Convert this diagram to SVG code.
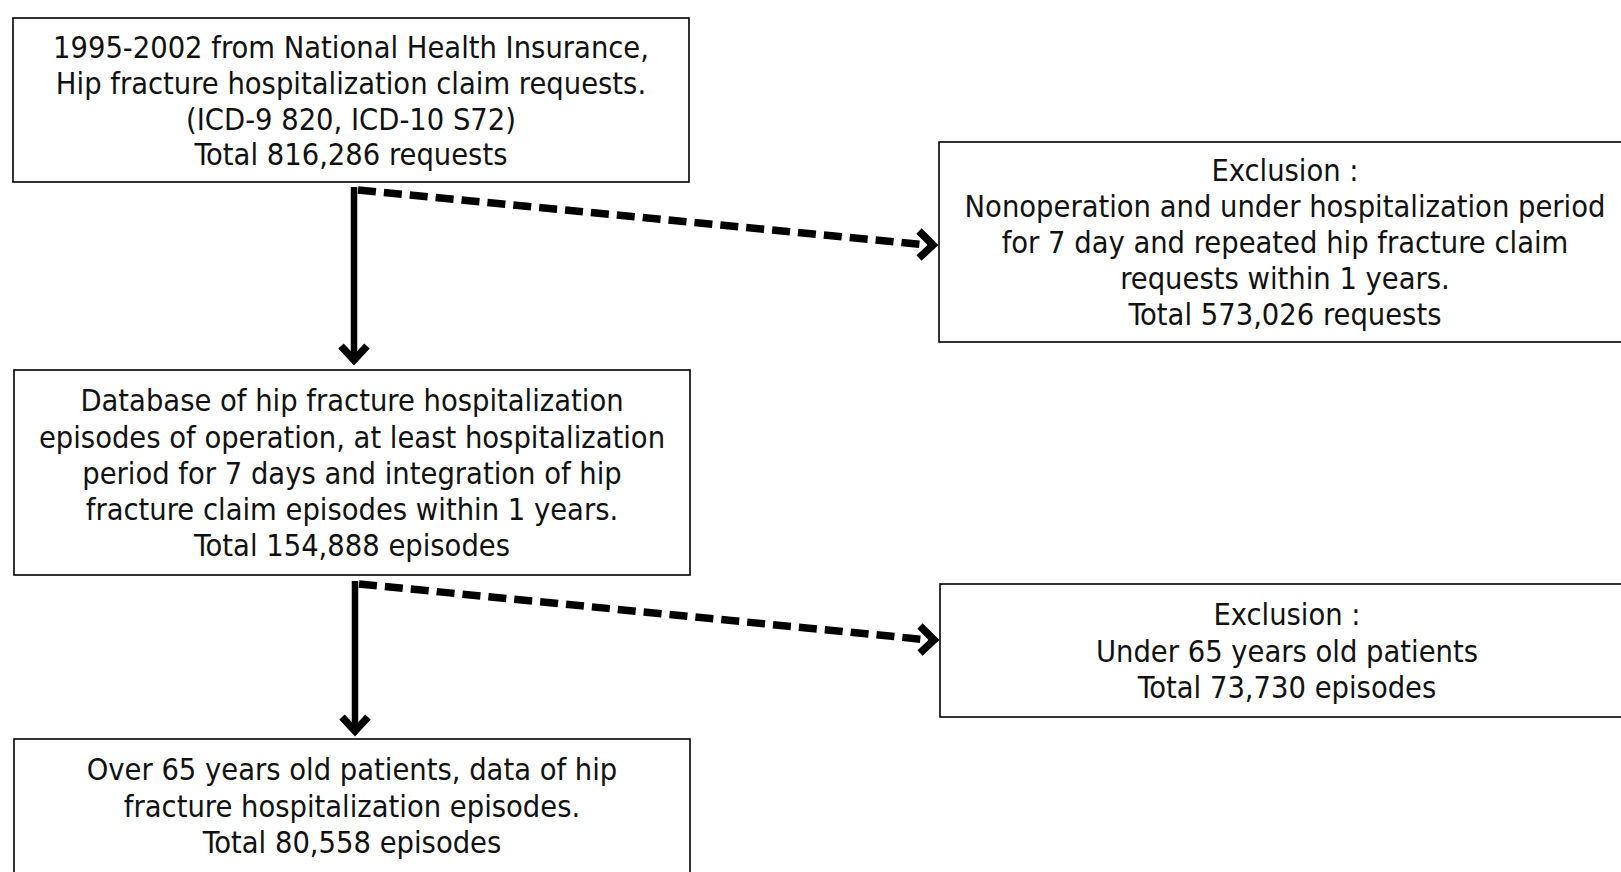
<svg xmlns="http://www.w3.org/2000/svg" width="1621" height="872" viewBox="0 0 1621 872">
<style>
.box{fill:#fff;stroke:#000;stroke-width:1.6}
text{font-family:"DejaVu Sans Condensed","Liberation Sans",sans-serif;font-size:30.5px;fill:#111;text-anchor:middle}
.solid{stroke:#000;stroke-width:6.5;fill:none}
.dash{stroke:#000;stroke-width:7.5;fill:none;stroke-dasharray:18 8}
.head{stroke:#000;stroke-width:7.5;fill:none;stroke-linejoin:miter}
</style>
<rect width="1621" height="872" fill="#fff"/>
<g id="connectors">
<line class="solid" x1="354" y1="187" x2="354" y2="358"/>
<polyline class="head" points="341,346 354,360 367,346"/>
<line class="dash" x1="358" y1="190" x2="928" y2="245"/>
<polyline class="head" points="919,231 933,245 919,258"/>
<line class="solid" x1="355" y1="581" x2="355" y2="729"/>
<polyline class="head" points="342,717 355,731 368,717"/>
<line class="dash" x1="359" y1="584" x2="929" y2="640"/>
<polyline class="head" points="920,626 934,640 920,653"/>
</g>
<g id="n1">
<rect class="box" x="13" y="18" width="676" height="164"/>
<text x="351" y="58">1995-2002 from National Health Insurance,</text>
<text x="351" y="94">Hip fracture hospitalization claim requests.</text>
<text x="351" y="130">(ICD-9 820, ICD-10 S72)</text>
<text x="351" y="165">Total 816,286 requests</text>
</g>
<g id="n2">
<rect class="box" x="939" y="142" width="690" height="200"/>
<text x="1285" y="181">Exclusion :</text>
<text x="1285" y="217">Nonoperation and under hospitalization period</text>
<text x="1285" y="253">for 7 day and repeated hip fracture claim</text>
<text x="1285" y="289">requests within 1 years.</text>
<text x="1285" y="325">Total 573,026 requests</text>
</g>
<g id="n3">
<rect class="box" x="14" y="370" width="676" height="205"/>
<text x="352" y="411">Database of hip fracture hospitalization</text>
<text x="352" y="448">episodes of operation, at least hospitalization</text>
<text x="352" y="484">period for 7 days and integration of hip</text>
<text x="352" y="520">fracture claim episodes within 1 years.</text>
<text x="352" y="556">Total 154,888 episodes</text>
</g>
<g id="n4">
<rect class="box" x="940" y="584" width="690" height="133"/>
<text x="1287" y="625">Exclusion :</text>
<text x="1287" y="662">Under 65 years old patients</text>
<text x="1287" y="698">Total 73,730 episodes</text>
</g>
<g id="n5">
<rect class="box" x="14" y="739" width="676" height="140"/>
<text x="352" y="780">Over 65 years old patients, data of hip</text>
<text x="352" y="817">fracture hospitalization episodes.</text>
<text x="352" y="853">Total 80,558 episodes</text>
</g>
</svg>
